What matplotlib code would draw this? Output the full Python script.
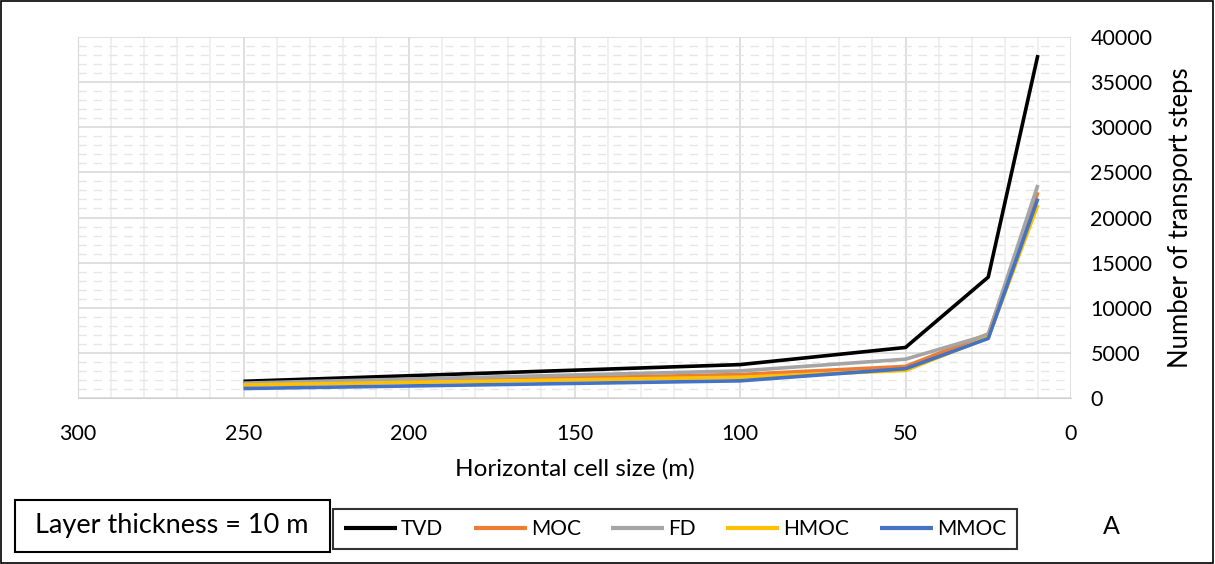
import numpy as np
import matplotlib.pyplot as plt
from matplotlib.patches import Rectangle
from matplotlib.ticker import MultipleLocator

plt.rcParams['font.family'] = ['Lato', 'DejaVu Sans']

cell_size = [250, 100, 50, 25, 10]
tvd = [1850, 3700, 5600, 13400, 38000]
moc = [1450, 2600, 3500, 7100, 22800]
fd = [1650, 3000, 4300, 7000, 23600]
hmoc = [1450, 2300, 3050, 6700, 21400]
mmoc = [1050, 1900, 3250, 6600, 22100]

names = ['TVD', 'MOC', 'FD', 'HMOC', 'MMOC']
colors = ['#000000', '#ED7D31', '#A5A5A5', '#FFC000', '#4472C4']

W, H = 1215, 564
fig = plt.figure(figsize=(W/100, H/100), dpi=100)
ax = fig.add_axes([78/W, 1 - 398/H, (1071-78)/W, (398-37)/H])

for y, name, c in zip([tvd, moc, fd, hmoc, mmoc], names, colors):
    ax.plot(cell_size, y, color=c, lw=2.6, label=name, solid_capstyle='butt')

ax.set_xlim(300, 0)
ax.set_ylim(0, 40000)
ax.xaxis.set_major_locator(MultipleLocator(50))
ax.xaxis.set_minor_locator(MultipleLocator(10))
ax.yaxis.set_major_locator(MultipleLocator(5000))
ax.yaxis.set_minor_locator(MultipleLocator(1000))
ax.grid(which='major', color='#d9d9d9', lw=1.2)
ax.grid(which='minor', axis='x', color='#ededed', lw=1.2)
ax.grid(which='minor', axis='y', color='#e6e6e6', lw=1.0, ls=(0, (6, 5)))
ax.set_axisbelow(True)
for s in ax.spines.values():
    s.set_visible(False)
ax.spines['bottom'].set_visible(True)
ax.spines['bottom'].set_color('#d0d0d0')
ax.spines['left'].set_visible(True)
ax.spines['left'].set_color('#d9d9d9')

ax.yaxis.tick_right()
ax.yaxis.set_label_position('right')
ax.tick_params(which='both', length=0, labelsize=15.5)
ax.tick_params(axis='x', pad=19)
ax.tick_params(axis='y', pad=14)
ax.set_xlabel('Horizontal cell size (m)', fontsize=17.5, labelpad=10)
ax.set_ylabel('Number of transport steps', fontsize=18.5, labelpad=11)

leg = fig.legend(loc='center', bbox_to_anchor=(675/W, 1 - 529/H), ncol=5,
                 fontsize=15, frameon=True, fancybox=False, handlelength=2.55,
                 handletextpad=0.2, columnspacing=1.45, borderpad=0.5)
leg.get_frame().set_edgecolor('black')
leg.get_frame().set_linewidth(1.5)
for line in leg.get_lines():
    line.set_linewidth(3)

# caption box on the left
fig.add_artist(Rectangle((15/W, 1 - 552/H), 315/W, 52/H, transform=fig.transFigure,
                         fill=False, ec='black', lw=1.5))
fig.text(172/W, 1 - 526/H, 'Layer thickness = 10 m', fontsize=19.5,
         ha='center', va='center')
fig.text(1111/W, 1 - 527/H, 'A', fontsize=18, ha='center', va='center')

fig.add_artist(Rectangle((0.001, 0.001), 0.997, 0.997, transform=fig.transFigure,
                         fill=False, ec='black', lw=1.2))

fig.savefig('out.png', dpi=100)
